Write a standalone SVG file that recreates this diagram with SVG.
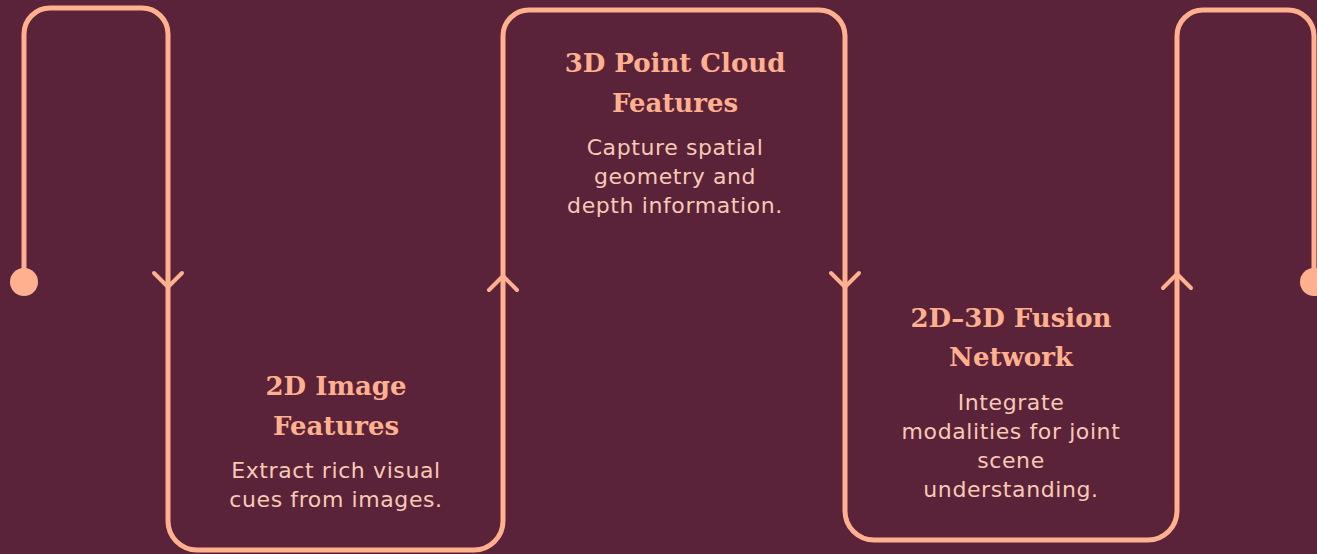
<svg xmlns="http://www.w3.org/2000/svg" width="1317" height="554" viewBox="0 0 1317 554">
  <style>
    .line { fill: none; stroke: #ffb18f; stroke-width: 5; stroke-linecap: round; stroke-linejoin: round; }
    .chev { fill: none; stroke: #ffb18f; stroke-width: 4; stroke-linecap: round; stroke-linejoin: round; }
    .dot { fill: #ffb18f; }
    .title { font-family: "DejaVu Serif", "Liberation Serif", serif; font-weight: bold; font-size: 26px; fill: #ffb18f; text-anchor: middle; }
    .body { font-family: "DejaVu Sans", "Liberation Sans", sans-serif; font-size: 22px; letter-spacing: 0.6px; fill: #f7cab6; text-anchor: middle; }
  </style>
  <rect x="0" y="0" width="1317" height="554" fill="#5b2339"/>
  <g id="connectors">
    <path class="line" d="M24,282 V34 A26,26 0 0 1 50,8 H142 A26,26 0 0 1 168,34 V521 A29,29 0 0 0 197,550 H474 A29,29 0 0 0 503,521 V36 A26,26 0 0 1 529,10 H819 A26,26 0 0 1 845,36 V511 A29,29 0 0 0 874,540 H1148 A29,29 0 0 0 1177,511 V36 A26,26 0 0 1 1203,10 H1288 A26,26 0 0 1 1314,36 V282"/>
    <path class="chev" d="M154,273 L168,287 L182,273"/>
    <path class="chev" d="M489,290 L503,276 L517,290"/>
    <path class="chev" d="M831,273 L845,287 L859,273"/>
    <path class="chev" d="M1163,288 L1177,274 L1191,288"/>
    <circle class="dot" cx="24" cy="282" r="14"/>
    <circle class="dot" cx="1314" cy="282" r="14"/>
  </g>
  <g id="node-2d-image">
    <text class="title" x="336" y="395">2D Image</text>
    <text class="title" x="336" y="435">Features</text>
    <text class="body" x="336" y="478">Extract rich visual</text>
    <text class="body" x="336" y="507">cues from images.</text>
  </g>
  <g id="node-3d-point-cloud">
    <text class="title" x="675" y="72">3D Point Cloud</text>
    <text class="title" x="675" y="112">Features</text>
    <text class="body" x="675" y="155">Capture spatial</text>
    <text class="body" x="675" y="184">geometry and</text>
    <text class="body" x="675" y="213">depth information.</text>
  </g>
  <g id="node-fusion">
    <text class="title" x="1011" y="327">2D–3D Fusion</text>
    <text class="title" x="1011" y="366">Network</text>
    <text class="body" x="1011" y="410">Integrate</text>
    <text class="body" x="1011" y="439">modalities for joint</text>
    <text class="body" x="1011" y="468">scene</text>
    <text class="body" x="1011" y="497">understanding.</text>
  </g>
</svg>
